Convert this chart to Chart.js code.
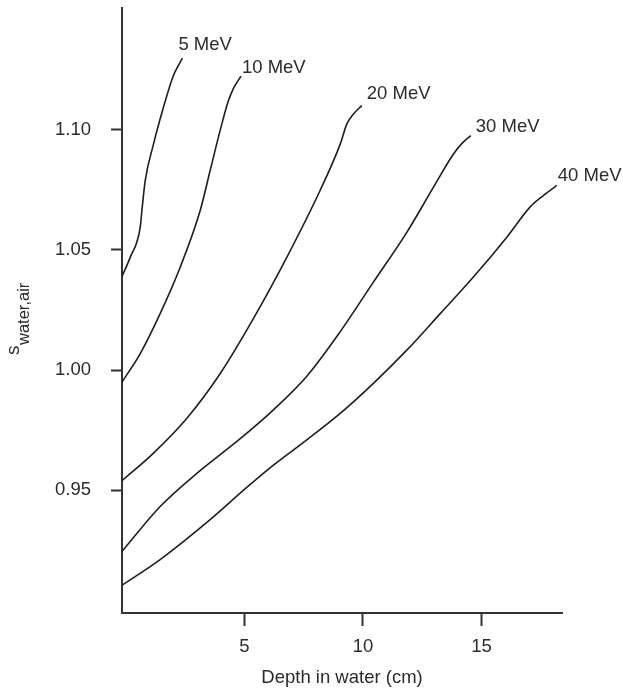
<!DOCTYPE html>
<html>
<head>
<meta charset="utf-8">
<script src="https://cdn.jsdelivr.net/npm/chart.js@4"></script>
<style>
  html, body { margin: 0; padding: 0; background: #fff; }
  canvas { display: block; }
</style>
</head>
<body>
<canvas id="chart" width="623" height="691"></canvas>
<script>
// depth (cm) and stopping-power ratio
const depth5 = [-0.17, 0.18, 0.6, 0.67, 0.81, 1.16, 1.58, 2.0, 2.2, 2.38];
const s5 = [1.039, 1.047, 1.0595, 1.0664, 1.0788, 1.094, 1.1093, 1.1225, 1.1265, 1.1298];

const depth10 = [-0.17, 0.6, 1.44, 2.29, 3.13, 3.55, 3.97, 4.32, 4.55, 4.85];
const s10 = [0.995, 1.0069, 1.0235, 1.0429, 1.0664, 1.083, 1.0996, 1.112, 1.1175, 1.1222];

const depth20 = [-0.17, 1.16, 2.57, 3.97, 5.38, 6.79, 8.19, 9.04, 9.32, 9.6, 9.95];
const s20 = [0.954, 0.9655, 0.98, 0.9985, 1.0215, 1.047, 1.0747, 1.094, 1.1024, 1.1065, 1.110];

const depth30 = [-0.17, 1.44, 2.99, 4.82, 6.22, 7.63, 9.04, 10.44, 11.85, 12.97, 13.82, 14.2, 14.55];
const s30 = [0.9246, 0.9433, 0.9571, 0.9715, 0.9835, 0.9975, 1.016, 1.0366, 1.0573, 1.076, 1.0899, 1.0945, 1.0975];

const depth40 = [-0.17, 1.44, 3.55, 5.07, 6.22, 7.63, 9.04, 10.44, 11.85, 13.26, 14.66, 16.07, 17.05, 17.6, 18.18];
const s40 = [0.9105, 0.9212, 0.9378, 0.951, 0.9605, 0.971, 0.982, 0.9945, 1.0083, 1.0235, 1.0387, 1.0553, 1.0678, 1.0725, 1.0768];

const curveLabels = ["5 MeV", "10 MeV", "20 MeV", "30 MeV", "40 MeV"];
const xTicks = [5, 10, 15];
const yTicks = [0.95, 1.00, 1.05, 1.10];

const FONT = "'Liberation Sans', Arial, Helvetica, sans-serif";
const INK = "#2b2b2b";

function pts(xs, ys) {
    return xs.map((x, i) => ({ x: x, y: ys[i] }));
}

const series = [
    pts(depth5, s5),
    pts(depth10, s10),
    pts(depth20, s20),
    pts(depth30, s30),
    pts(depth40, s40),
];

// pixel nudges for the curve-end labels
const labelNudge = [[-4, -13], [1, -8], [5, -12], [5, -9], [1, -10]];

const curveLabelPlugin = {
    id: "curveLabels",
    afterDatasetsDraw(chart) {
        const ctx = chart.ctx;
        ctx.save();
        ctx.font = "18.5px " + FONT;
        ctx.fillStyle = INK;
        ctx.textAlign = "left";
        ctx.textBaseline = "middle";
        chart.data.datasets.forEach((ds, i) => {
            const meta = chart.getDatasetMeta(i);
            const last = meta.data[meta.data.length - 1];
            ctx.fillText(curveLabels[i], last.x + labelNudge[i][0], last.y + labelNudge[i][1]);
        });
        ctx.restore();
    }
};

// y title with subscript: s_water,air
const yTitlePlugin = {
    id: "yTitle",
    afterDraw(chart) {
        const ctx = chart.ctx;
        ctx.save();
        ctx.translate(19, 355);
        ctx.rotate(-Math.PI / 2);
        ctx.fillStyle = INK;
        ctx.textAlign = "left";
        ctx.textBaseline = "alphabetic";
        ctx.font = "19px " + FONT;
        ctx.fillText("s", 0, 0);
        const w = ctx.measureText("s").width;
        ctx.font = "16.5px " + FONT;
        ctx.fillText("water,air", w + 0.5, 9.5);
        ctx.restore();
    }
};

new Chart(document.getElementById("chart"), {
    type: "line",
    data: {
        datasets: series.map((d, i) => ({
            label: curveLabels[i],
            data: d,
            borderColor: "#1e1e1e",
            borderWidth: 1.6,
            pointRadius: 0,
            fill: false,
            cubicInterpolationMode: "monotone",
        })),
    },
    options: {
        responsive: false,
        animation: false,
        devicePixelRatio: 1,
        layout: { padding: { top: 8, right: 61, left: 0, bottom: 0 } },
        plugins: {
            legend: { display: false },
            tooltip: { enabled: false },
        },
        scales: {
            x: {
                type: "linear",
                min: -0.17,
                max: 18.4,
                afterBuildTicks: (scale) => {
                    scale.ticks = xTicks.map((v) => ({ value: v }));
                },
                afterFit: (scale) => {
                    scale.height = 78;
                    scale.paddingLeft = 0;
                    scale.paddingRight = 0;
                },
                border: { display: true, color: "#333", width: 2 },
                grid: {
                    display: true,
                    drawOnChartArea: false,
                    drawTicks: true,
                    tickLength: 13,
                    tickColor: "#333",
                    tickWidth: 2,
                },
                ticks: {
                    color: INK,
                    font: { family: FONT, size: 18.5 },
                    padding: 10,
                    maxRotation: 0,
                    callback: (v) => String(v),
                },
                title: {
                    display: true,
                    text: "Depth in water (cm)",
                    color: INK,
                    font: { family: FONT, size: 18.5 },
                    padding: { top: 0, bottom: 2 },
                },
            },
            y: {
                type: "linear",
                min: 0.899,
                max: 1.1506,
                afterBuildTicks: (scale) => {
                    scale.ticks = yTicks.map((v) => ({ value: v }));
                },
                afterFit: (scale) => {
                    scale.width = 122;
                    scale.paddingTop = 0;
                    scale.paddingBottom = 0;
                },
                border: { display: true, color: "#333", width: 2 },
                grid: {
                    display: true,
                    drawOnChartArea: false,
                    drawTicks: true,
                    tickLength: 11,
                    tickColor: "#333",
                    tickWidth: 2,
                },
                ticks: {
                    color: INK,
                    font: { family: FONT, size: 18.5 },
                    padding: 20,
                    callback: (v) => v.toFixed(2),
                },
            },
        },
    },
    plugins: [curveLabelPlugin, yTitlePlugin],
});
</script>
</body>
</html>
